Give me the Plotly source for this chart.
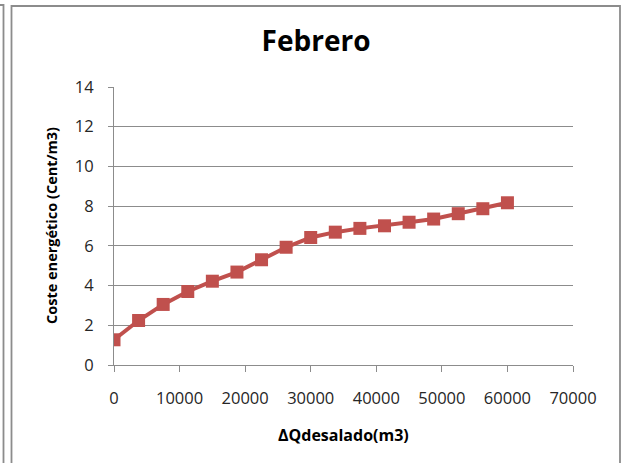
import plotly.graph_objects as go

# Incremental desalinated volume (m3) and energy cost (cent/m3)
delta_q = [0, 3750, 7500, 11250, 15000, 18750, 22500, 26250, 30000,
           33750, 37500, 41250, 45000, 48750, 52500, 56250, 60000]
coste = [1.27, 2.24, 3.05, 3.70, 4.22, 4.68, 5.30, 5.93, 6.42,
         6.69, 6.88, 7.01, 7.19, 7.35, 7.62, 7.87, 8.17]

x_ticks = [0, 10000, 20000, 30000, 40000, 50000, 60000, 70000]
y_ticks = [0, 2, 4, 6, 8, 10, 12, 14]

W, H = 624, 463
L, R, T, B = 114, 51, 87, 98
pw, ph = W - L - R, H - T - B

def px(xp):
    return (xp - L) / pw

def py(yp):
    return (H - B - yp) / ph

FONT = "Open Sans"
GRID = "#8c8c8c"
TICK_COLOR = "#262626"

fig = go.Figure(go.Scatter(
    x=delta_q, y=coste, mode="lines+markers",
    line=dict(color="#c0504d", width=4),
    marker=dict(symbol="square", size=13, color="#c0504d"),
    showlegend=False,
))

fig.update_layout(
    width=W, height=H,
    margin=dict(l=L, r=R, t=T, b=B),
    paper_bgcolor="white", plot_bgcolor="white",
    font=dict(family=FONT, color="#000000", size=13),
    title=dict(text="<b>Febrero</b>", xref="container", x=316 / W,
               xanchor="center", yref="container", y=1 - 41 / H,
               yanchor="middle",
               font=dict(family=FONT, size=28, color="#000000")),
    xaxis=dict(range=[0, 70000], tickvals=x_ticks,
               ticktext=[str(v) for v in x_ticks],
               showgrid=False, zeroline=False,
               showline=True, linecolor=GRID, linewidth=1,
               ticks="outside", ticklen=6, tickcolor=GRID,
               ticklabelstandoff=12,
               tickfont=dict(family=FONT, size=16.5, color=TICK_COLOR)),
    yaxis=dict(range=[0, 14], tickvals=y_ticks,
               showgrid=True, gridcolor=GRID, gridwidth=1, zeroline=False,
               showline=True, linecolor=GRID, linewidth=1,
               ticks="outside", ticklen=5, tickcolor=GRID,
               ticklabelstandoff=11,
               tickfont=dict(family=FONT, size=16.5, color=TICK_COLOR)),
    annotations=[
        dict(text="<b>ΔQdesalado(m3)</b>", xref="paper", yref="paper",
             x=px(343), y=py(435), xanchor="center", yanchor="middle",
             showarrow=False, font=dict(family=FONT, size=16)),
        dict(text="<b>Coste energético (Cent/m3)</b>", xref="paper", yref="paper",
             x=px(51), y=py(225), xanchor="center", yanchor="middle",
             textangle=-90, showarrow=False, font=dict(family=FONT, size=14.5)),
    ],
    shapes=[
        # chart frame
        dict(type="path", xref="paper", yref="paper",
             path=f"M {px(11.5)} {py(470)} L {px(11.5)} {py(6)} L {px(620)} {py(6)} L {px(620)} {py(470)}",
             line=dict(color=GRID, width=1.8)),
        # edge of the neighbouring frame on the left
        dict(type="path", xref="paper", yref="paper",
             path=f"M {px(-2)} {py(5)} L {px(3.5)} {py(5)} L {px(3.5)} {py(470)}",
             line=dict(color=GRID, width=1.8)),
    ],
)

fig.write_html("out.html")
